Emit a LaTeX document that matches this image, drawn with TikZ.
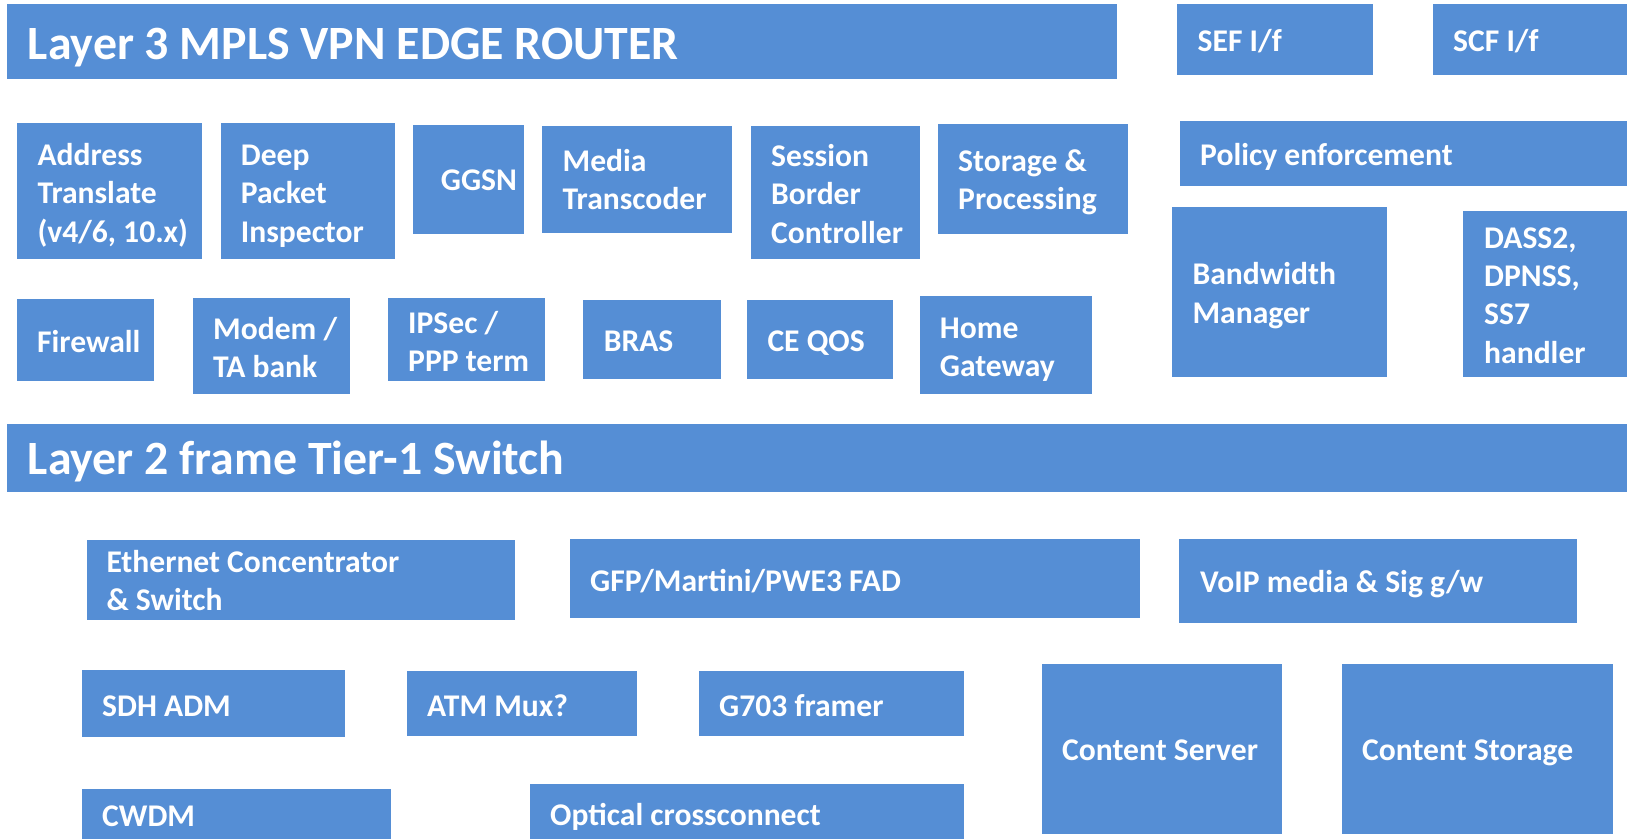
\documentclass[tikz,border=0pt]{standalone}
\usepackage{fontspec}
\setmainfont{Carlito}
\definecolor{boxblue}{RGB}{85,142,213}
\tikzset{
  blk/.style={fill=boxblue, draw=none, inner sep=0pt, outer sep=0pt, anchor=north west},
  lbl/.style={text=white, inner sep=0pt, anchor=base west, align=left, yshift=-1.5pt,
    font=\bfseries\fontsize{31.6}{38.3}\selectfont},
  biglbl/.style={lbl, yshift=0pt, font=\bfseries\fontsize{47.8}{57}\selectfont},
}
% \fblock[style]{name}{x1}{y1}{x2}{y2}{text x}{baseline of last line}{text}
\newcommand\fblock[9][lbl]{%
  \node[blk, minimum width={(#5-#3)*1pt}, minimum height={(#6-#4)*1pt}] (#2) at (#3,#4) {};
  \node[#1] (#2-text) at (#7,#8) {#9};%
}
\begin{document}
\begin{tikzpicture}[x=1pt, y=-1pt]
\useasboundingbox (0,0) rectangle (1627,839);

% ---- Layer 3 router and its service blades
\fblock[biglbl]{l3}{7}{4}{1117}{79}{27.7}{58.3}{Layer 3 MPLS VPN EDGE ROUTER}
\fblock{sef}{1177}{4}{1373}{75}{1197.5}{50}{SEF I/f}
\fblock{scf}{1433}{4}{1627}{75}{1453}{50}{SCF I/f}
\fblock{policy}{1180}{121}{1627}{186}{1200}{164}{Policy enforcement}

\fblock{addr}{17}{123}{202}{259}{37.3}{240.7}{Address\\Translate\\(v4/6, 10.x)}
\fblock{dpi}{221}{123}{395}{259}{240.7}{240.7}{Deep\\Packet\\Inspector}
\fblock{ggsn}{413}{125}{524}{234}{440.7}{189.3}{GGSN}
\fblock{media}{542}{126}{732}{233}{562.5}{208.3}{Media\\Transcoder}
\fblock{sbc}{751}{126}{920}{259}{771}{241.7}{Session\\Border\\Controller}
\fblock{store}{938}{124}{1128}{234}{958}{208.3}{Storage \&\\Processing}
\fblock{bwm}{1172}{207}{1387}{377}{1192.4}{321.7}{Bandwidth\\Manager}
\fblock{dass}{1463}{211}{1627}{377}{1484}{361.7}{DASS2,\\DPNSS,\\SS7\\handler}

\fblock{fw}{17}{299}{154}{381}{37}{350.7}{Firewall}
\fblock{modem}{193}{298}{350}{394}{213}{376}{Modem /\\TA bank}
\fblock{ipsec}{388}{298}{545}{381}{408}{370}{IPSec /\\PPP term}
\fblock{bras}{583}{300}{721}{379}{603.6}{350}{BRAS}
\fblock{ceqos}{747}{300}{893}{379}{767.3}{350}{CE QOS}
\fblock{home}{920}{296}{1092}{394}{939.7}{375}{Home\\Gateway}

% ---- Layer 2 switch and transport equipment
\fblock[biglbl]{l2}{7}{424}{1627}{492}{27.6}{473.3}{Layer 2 frame Tier-1 Switch}

\fblock{eth}{87}{540}{515}{620}{106.3}{609.3}{Ethernet Concentrator\\\& Switch}
\fblock{gfp}{570}{539}{1140}{618}{590}{590}{GFP/Martini/PWE3 FAD}
\fblock{voip}{1179}{539}{1577}{623}{1200}{590.7}{VoIP media \& Sig g/w}

\fblock{sdh}{82}{670}{345}{737}{102}{715}{SDH ADM}
\fblock{atm}{407}{671}{637}{736}{427}{715}{ATM Mux?}
\fblock{g703}{699}{671}{964}{736}{719}{715}{G703 framer}
\fblock{cserver}{1042}{664}{1282}{834}{1062}{759.3}{Content Server}
\fblock{cstore}{1342}{664}{1612.5}{834}{1362}{759.3}{Content Storage}

\fblock{cwdm}{82}{789}{391}{839}{102}{825}{CWDM}
\fblock{oxc}{530}{784}{964}{839}{550}{824}{Optical crossconnect}
\end{tikzpicture}
\end{document}
